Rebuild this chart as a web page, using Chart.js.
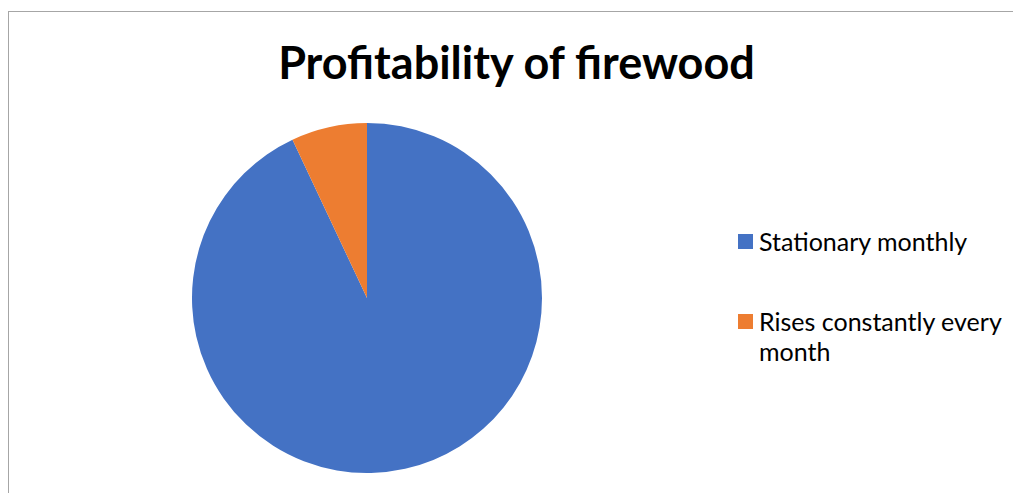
<!DOCTYPE html>
<html>
<head>
<meta charset="utf-8">
<script src="https://cdn.jsdelivr.net/npm/chart.js@4/dist/chart.umd.min.js"></script>
<style>
  html, body { margin:0; padding:0; background:#fff; }
  body { width:1013px; height:493px; position:relative; overflow:hidden; font-family:Lato, "Open Sans", sans-serif; }
  .frame { position:absolute; left:8px; top:11px; right:-2px; bottom:-2px; border:1px solid #a6a6a6; border-width:1px 0 0 1px; }
  #title { position:absolute; left:0; width:1033px; top:32px; text-align:center; font-weight:bold; font-size:45px; line-height:60px; color:#000; white-space:nowrap; }
  #pieWrap { position:absolute; left:192px; top:123px; width:350px; height:350px; }
  #legend { position:absolute; left:738px; top:226px; width:272px; font-size:25px; line-height:30px; color:#000; }
  .item { position:relative; padding-left:21px; margin-bottom:50px; }
  .sw { position:absolute; left:0; top:8px; width:15px; height:15px; }
</style>
</head>
<body>
<div class="frame"></div>
<div id="title"></div>
<div id="pieWrap"><canvas id="pie"></canvas></div>
<div id="legend"></div>
<script>
// ── Data ─────────────────────────────────────────────────────
const TITLE  = 'Profitability of firewood';
const LABELS = ['Stationary monthly', 'Rises constantly every month'];
const VALUES = [93, 7];
const COLORS = ['#4472C4', '#ED7D31'];

document.getElementById('title').textContent = TITLE;

// ── Pie ──────────────────────────────────────────────────────
const pie = new Chart(document.getElementById('pie'), {
  type:'pie',
  data:{
    labels: LABELS,
    datasets:[{ data: VALUES, backgroundColor: COLORS, borderWidth:0 }]
  },
  options:{
    responsive:true, maintainAspectRatio:false, animation:false,
    layout:{ padding:0 },
    plugins:{ legend:{display:false}, title:{display:false}, tooltip:{enabled:false} }
  }
});

// ── Legend (HTML so the long label can wrap) ────────────────
document.getElementById('legend').innerHTML = LABELS.map((l,i)=>
  `<div class="item"><span class="sw" style="background:${COLORS[i]}"></span>${l}</div>`
).join('');
</script>
</body>
</html>
